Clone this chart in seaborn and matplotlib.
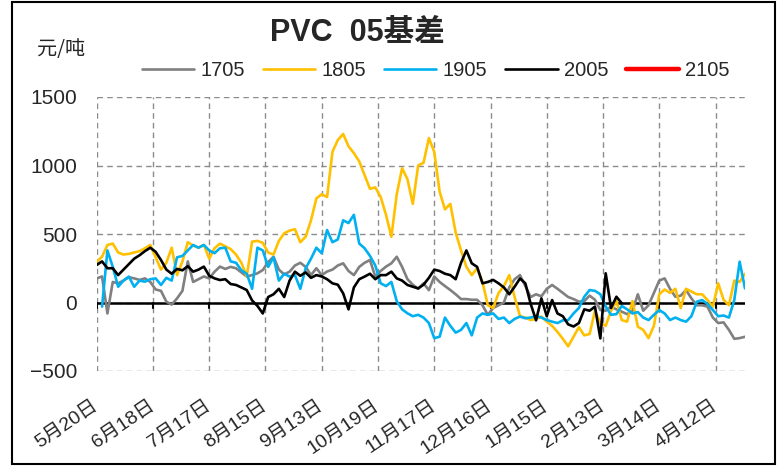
import numpy as np
import pandas as pd
import matplotlib
matplotlib.use("Agg")
import matplotlib.pyplot as plt
from matplotlib.patches import Rectangle
import seaborn as sns

# ---------------- data (trading-day index, sampled every 2 days) ----------------
step = 2
tick_days = [0, 21, 42, 63, 84, 105, 126, 147, 168, 189, 210, 231]
tick_labels = ["5月20日", "6月18日", "7月17日", "8月15日", "9月13日", "10月19日",
               "11月17日", "12月16日", "1月15日", "2月13日", "3月14日", "4月12日"]

s1705 = [176, 190, -80, 150, 140, 160, 185, 176, 165, 176, 150, 95, 85, 6, -15, 30,
         85, 300, 150, 170, 190, 176, 225, 262, 245, 260, 250, 220, 190, 200, 213, 237,
         295, 334, 240, 205, 225, 270, 290, 260, 200, 250, 200, 226, 240, 270, 286, 230,
         200, 260, 290, 310, 189, 230, 262, 286, 334, 260, 170, 130, 100, 140, 90, 190,
         150, 120, 91, 60, 25, 25, 20, 20, -20, -90, -40, -20, 0, 110, 170, 200,
         120, 40, 60, 45, 100, 128, 100, 70, 40, 25, 6, 10, 50, 20, -55, -60,
         -30, -50, -67, -85, -60, 60, -60, -20, 70, 160, 176, 100, 42, 50, 91, 30,
         -20, -20, -30, -110, -150, -145, -200, -265, -260, -250]

s1805 = [298, 334, 420, 430, 365, 350, 355, 365, 375, 396, 420, 330, 240, 290, 400, 200,
         300, 440, 415, 400, 420, 320, 396, 430, 410, 390, 350, 290, 190, 444, 450, 435,
         365, 350, 450, 505, 525, 535, 440, 480, 600, 760, 790, 770, 1100, 1186, 1230, 1140,
         1090, 1030, 930, 830, 840, 770, 640, 480, 790, 980, 900, 720, 1000, 1020, 1200, 1100,
         810, 680, 720, 510, 380, 260, 200, 250, 150, -20, -40, 69, 120, 200, 40, -100,
         -110, -128, -120, -103, -140, -170, -215, -265, -320, -250, -180, -240, -230, -60, -150, -170,
         -60, 10, -128, -140, 10, -177, -200, -260, -170, 60, 95, 70, 100, -40, 100, 80,
         60, 60, 18, -30, 140, 20, -20, 160, 150, 210]

s1905_start = 2
s1905 = [-30, 380, 260, 115, 160, 189, 115, 160, 152, 170, 176, 128, 180, 160, 330,
         340, 380, 420, 400, 420, 380, 360, 396, 400, 300, 290, 235, 210, 100, 400, 380,
         260, 330, 160, 210, 189, 200, 100, 250, 320, 400, 359, 529, 440, 460, 600, 580,
         640, 430, 396, 340, 270, 140, 120, 150, 10, -50, -79, -100, -90, -110, -150, -260,
         -250, -110, -170, -220, -200, -150, -240, -110, -80, -90, -80, -120, -110, -150, -120, -103,
         -115, -110, -100, -110, -128, -140, -150, -130, -128, -80, -40, 42, 91, 85, 60, -30,
         -90, -85, -25, -50, -80, -70, -110, -128, -90, -55, -80, -128, -110, -128, -140, -100,
         6, 18, -10, -55, -100, -95, -110, 18, 298, 103]

s2005 = [274, 300, 250, 250, 200, 240, 280, 320, 345, 375, 400, 370, 310, 240, 210, 245,
         235, 265, 225, 240, 262, 195, 176, 164, 170, 135, 128, 110, 91, 15, -25, -80,
         40, 60, 100, 40, 160, 225, 195, 220, 180, 200, 190, 170, 140, 130, 67, -50,
         110, 170, 189, 210, 170, 200, 200, 225, 176, 160, 128, 115, 103, 130, 180, 240,
         230, 210, 200, 170, 290, 380, 286, 260, 140, 150, 165, 140, 110, 60, 115, 175,
         140, -10, -130, 30, -100, 18, -80, -100, -160, -175, -150, -50, -60, -30, -262, 213,
         -40, 42, -6]

s2105 = []

names = ["1705", "1805", "1905", "2005", "2105"]
colors = ["#808080", "#FFC000", "#00B0F0", "#000000", "#FF0000"]

# ---------------- build long table ----------------
frames = []
for name, vals, start in [("1705", s1705, 0), ("1805", s1805, 0),
                          ("1905", s1905, s1905_start), ("2005", s2005, 0)]:
    frames.append(pd.DataFrame({"day": np.arange(len(vals)) * step + start,
                                "value": vals, "series": name}))
df = pd.concat(frames, ignore_index=True)

# ---------------- style ----------------
sns.set_theme(style="white")
latin = "Liberation Sans"
cjk = "Noto Sans CJK SC"
plt.rcParams["font.family"] = [latin, cjk, "DejaVu Sans"]
plt.rcParams["axes.unicode_minus"] = True

fig = plt.figure(figsize=(7.81, 4.67), dpi=100)
ax = fig.add_axes([96.7 / 781, 1 - 371 / 467, (745 - 96.7) / 781, (371 - 97) / 467])

for name, col in zip(names[:4], colors[:4]):
    sub = df[df["series"] == name]
    sns.lineplot(data=sub, x="day", y="value", color=col, lw=1.9, ax=ax,
                 legend=False, label=name, zorder=3)
ax.plot(s2105, s2105, color=colors[4], lw=3.2, label="2105")

ax.set_xlim(0, 242)
ax.set_ylim(-500, 1500)
ax.set_yticks([-500, 0, 500, 1000, 1500])
ax.set_yticklabels(["\u2212500", "0", "500", "1000", "1500"], fontsize=15,
                   family=[latin])
ax.set_xticks(tick_days)
ax.set_xticklabels(tick_labels, rotation=34, ha="right", va="center",
                   rotation_mode="anchor", fontsize=14, family=[latin, cjk])
ax.tick_params(axis="x", length=0, pad=24)
ax.tick_params(axis="y", length=0, pad=14)
ax.set_xlabel("")
ax.set_ylabel("")

for s in ax.spines.values():
    s.set_visible(False)
ax.grid(True, color="#8c8c8c", linestyle=(0, (4, 3)), lw=1.0)
ax.set_axisbelow(True)

# zero axis line with small tick marks
ax.axhline(0, color="black", lw=1.8, zorder=2)
for t in tick_days:
    ax.plot([t, t], [0, -38], color="black", lw=1.5, zorder=2)

# legend
handles, labels = ax.get_legend_handles_labels()
order = [labels.index(n) for n in names]
leg = fig.legend([handles[i] for i in order], [labels[i] for i in order],
                 loc="center", bbox_to_anchor=(435.5 / 781, 1 - 71 / 467),
                 ncol=5, frameon=False, handlelength=2.6,
                 handletextpad=0.3, columnspacing=0.9,
                 prop={"family": [latin], "size": 14.5})

# title and unit
fig.text(357 / 781, 1 - 33 / 467, "PVC  05基差", ha="center", va="center",
         fontsize=22, fontweight="bold", family=[latin, cjk])
fig.text(61 / 781, 1 - 50 / 467, "元/吨", ha="center", va="center",
         fontsize=14.5, family=[cjk])

# outer border
fig.patches.append(Rectangle((12 / 781, 3 / 467), (775 - 12) / 781, (465 - 3) / 467,
                             transform=fig.transFigure, fill=False,
                             edgecolor="black", lw=1.5))

fig.savefig("out.png", dpi=100)
